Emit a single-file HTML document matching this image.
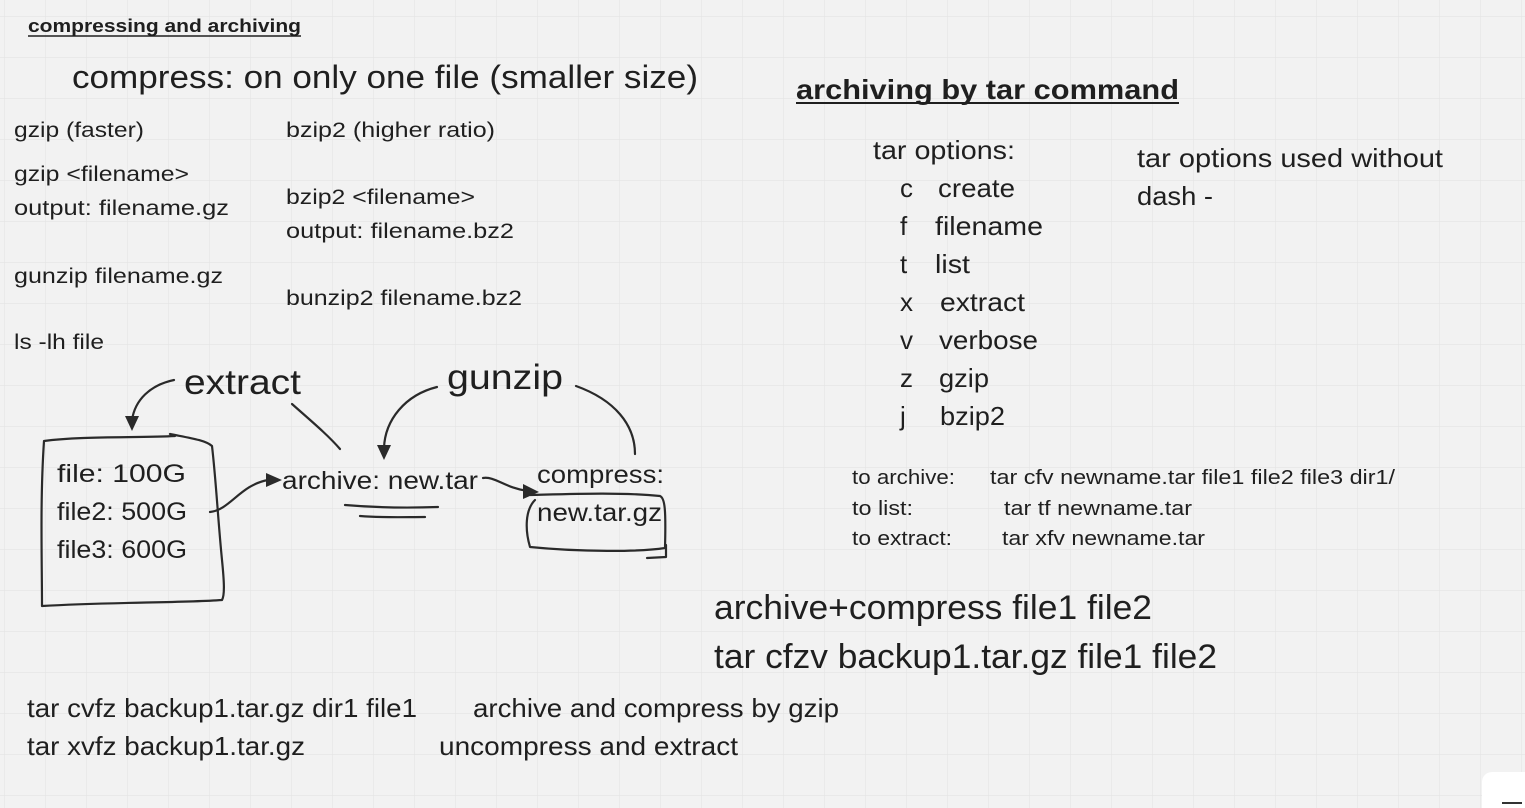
<!DOCTYPE html>
<html><head><meta charset="utf-8"><style>
html,body{margin:0;padding:0;background:#f2f2f2;}
svg{display:block}
text{font-family:"Liberation Sans",sans-serif;fill:#1f1f1f;}
</style></head><body>
<svg width="1525" height="808" viewBox="0 0 1525 808" xmlns="http://www.w3.org/2000/svg">
<defs>
<pattern id="g" width="41" height="41" patternUnits="userSpaceOnUse" x="4" y="16">
<path d="M0 0H41M0 0V41" stroke="#e4e4e4" stroke-width="1.2" fill="none"/>
</pattern>
</defs>
<rect width="1525" height="808" fill="#f2f2f2"/>
<rect width="1525" height="808" fill="url(#g)"/>

<text x="28" y="32" font-size="18" font-weight="bold" textLength="273" lengthAdjust="spacingAndGlyphs">compressing and archiving</text>
<line x1="28" y1="36" x2="301" y2="36" stroke="#1f1f1f" stroke-width="1.5"/>
<text x="72" y="88" font-size="32" textLength="626" lengthAdjust="spacingAndGlyphs">compress: on only one file (smaller size)</text>
<text x="796" y="99" font-size="28" font-weight="bold" textLength="383" lengthAdjust="spacingAndGlyphs">archiving by tar command</text>
<line x1="796" y1="103" x2="1179" y2="103" stroke="#1f1f1f" stroke-width="2"/>

<g font-size="21">
<text x="14" y="137" textLength="130" lengthAdjust="spacingAndGlyphs">gzip (faster)</text>
<text x="286" y="137" textLength="209" lengthAdjust="spacingAndGlyphs">bzip2 (higher ratio)</text>
<text x="14" y="181" textLength="175" lengthAdjust="spacingAndGlyphs">gzip &lt;filename&gt;</text>
<text x="14" y="215" textLength="215" lengthAdjust="spacingAndGlyphs">output: filename.gz</text>
<text x="286" y="204" textLength="189" lengthAdjust="spacingAndGlyphs">bzip2 &lt;filename&gt;</text>
<text x="286" y="238" textLength="228" lengthAdjust="spacingAndGlyphs">output: filename.bz2</text>
<text x="14" y="283" textLength="209" lengthAdjust="spacingAndGlyphs">gunzip filename.gz</text>
<text x="286" y="305" textLength="236" lengthAdjust="spacingAndGlyphs">bunzip2 filename.bz2</text>
<text x="14" y="349" textLength="90" lengthAdjust="spacingAndGlyphs">ls -lh file</text>
</g>

<text x="184" y="394" font-size="35" textLength="117" lengthAdjust="spacingAndGlyphs">extract</text>
<text x="447" y="389" font-size="35" textLength="116" lengthAdjust="spacingAndGlyphs">gunzip</text>

<g font-size="25">
<text x="57" y="482" textLength="129" lengthAdjust="spacingAndGlyphs">file: 100G</text>
<text x="57" y="520" textLength="130" lengthAdjust="spacingAndGlyphs">file2: 500G</text>
<text x="57" y="558" textLength="130" lengthAdjust="spacingAndGlyphs">file3: 600G</text>
<text x="282" y="489" textLength="196" lengthAdjust="spacingAndGlyphs">archive: new.tar</text>
<text x="537" y="483" textLength="127" lengthAdjust="spacingAndGlyphs">compress:</text>
<text x="537" y="521" textLength="125" lengthAdjust="spacingAndGlyphs">new.tar.gz</text>
</g>

<g fill="none" stroke="#2a2a2a" stroke-width="2.2" stroke-linecap="round" stroke-linejoin="round">
<path d="M44 441 C80 436 140 438 175 436 L170 434 C190 438 205 440 212 446 C216 480 218 520 222 560 C224 580 225 595 222 600 C180 603 110 602 42 606 C42 560 40 500 44 441"/>
<path d="M174 380 C150 385 135 400 132 420"/>
<path d="M292 404 C310 420 328 435 340 449"/>
<path d="M437 387 C405 395 385 420 384 448"/>
<path d="M576 386 C615 400 635 425 635 454"/>
<path d="M210 512 C230 510 240 485 268 480"/>
<path d="M483 478 C495 476 505 488 528 491"/>
<path d="M345 505 C380 508 410 508 438 507"/>
<path d="M360 516 C385 518 405 517 425 517"/>
<path d="M530 495 C570 494 620 492 660 496 C665 498 666 510 665 548 C640 552 580 552 530 547 C525 530 525 510 535 500"/>
<path d="M647 558 L666 557 L666 545"/>
</g>
<g fill="#2a2a2a">
<path d="M125 416 L132 431 L139 416 Z"/>
<path d="M377 445 L384 460 L391 445 Z"/>
<path d="M266 473 L282 480 L266 487 Z"/>
<path d="M523 484 L539 492 L523 499 Z"/>
</g>

<g font-size="26">
<text x="873" y="159" textLength="142" lengthAdjust="spacingAndGlyphs">tar options:</text>
<text x="900" y="197">c</text><text x="938" y="197" textLength="77" lengthAdjust="spacingAndGlyphs">create</text>
<text x="900" y="235">f</text><text x="935" y="235" textLength="108" lengthAdjust="spacingAndGlyphs">filename</text>
<text x="900" y="273">t</text><text x="935" y="273" textLength="35" lengthAdjust="spacingAndGlyphs">list</text>
<text x="900" y="311">x</text><text x="940" y="311" textLength="85" lengthAdjust="spacingAndGlyphs">extract</text>
<text x="900" y="349">v</text><text x="939" y="349" textLength="99" lengthAdjust="spacingAndGlyphs">verbose</text>
<text x="900" y="387">z</text><text x="939" y="387" textLength="50" lengthAdjust="spacingAndGlyphs">gzip</text>
<text x="900" y="425">j</text><text x="940" y="425" textLength="65" lengthAdjust="spacingAndGlyphs">bzip2</text>
<text x="1137" y="167" textLength="306" lengthAdjust="spacingAndGlyphs">tar options used without</text>
<text x="1137" y="205" textLength="76" lengthAdjust="spacingAndGlyphs">dash -</text>
</g>

<g font-size="20">
<text x="852" y="484" textLength="103" lengthAdjust="spacingAndGlyphs">to archive:</text>
<text x="990" y="484" textLength="405" lengthAdjust="spacingAndGlyphs">tar  cfv newname.tar file1 file2 file3 dir1/</text>
<text x="852" y="515" textLength="61" lengthAdjust="spacingAndGlyphs">to list:</text>
<text x="1004" y="515" textLength="188" lengthAdjust="spacingAndGlyphs">tar tf newname.tar</text>
<text x="852" y="545" textLength="100" lengthAdjust="spacingAndGlyphs">to extract:</text>
<text x="1002" y="545" textLength="203" lengthAdjust="spacingAndGlyphs">tar xfv newname.tar</text>
</g>

<text x="714" y="619" font-size="34" textLength="438" lengthAdjust="spacingAndGlyphs">archive+compress file1 file2</text>
<text x="714" y="668" font-size="34" textLength="503" lengthAdjust="spacingAndGlyphs">tar cfzv backup1.tar.gz file1 file2</text>

<g font-size="26">
<text x="27" y="717" textLength="390" lengthAdjust="spacingAndGlyphs">tar cvfz backup1.tar.gz dir1 file1</text>
<text x="473" y="717" textLength="366" lengthAdjust="spacingAndGlyphs">archive and compress by gzip</text>
<text x="27" y="755" textLength="278" lengthAdjust="spacingAndGlyphs">tar xvfz backup1.tar.gz</text>
<text x="439" y="755" textLength="299" lengthAdjust="spacingAndGlyphs">uncompress and extract</text>
</g>

<rect x="1482" y="772" width="60" height="50" rx="10" fill="#ffffff"/>
<line x1="1502" y1="803" x2="1522" y2="803" stroke="#333" stroke-width="2"/>
</svg>
</body></html>
